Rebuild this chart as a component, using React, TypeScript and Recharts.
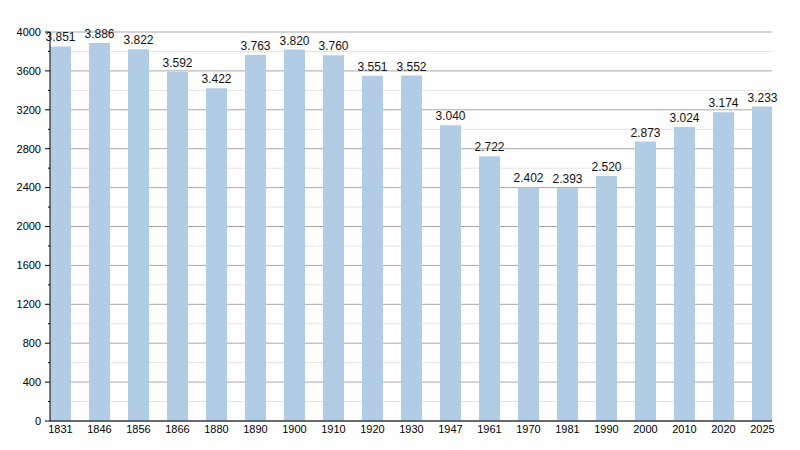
import { BarChart, Bar, XAxis, YAxis, CartesianGrid, LabelList } from 'recharts'

const years = ['1831', '1846', '1856', '1866', '1880', '1890', '1900', '1910', '1920', '1930', '1947', '1961', '1970', '1981', '1990', '2000', '2010', '2020', '2025']
const population = [3851, 3886, 3822, 3592, 3422, 3763, 3820, 3760, 3551, 3552, 3040, 2722, 2402, 2393, 2520, 2873, 3024, 3174, 3233]
const majorTicks = [0, 400, 800, 1200, 1600, 2000, 2400, 2800, 3200, 3600, 4000]
const minorTicks = [200, 600, 1000, 1400, 1800, 2200, 2600, 3000, 3400, 3800]
const allTicks = [...majorTicks, ...minorTicks].sort((a, b) => a - b)

const rows = years.map((y, i) => ({ i, year: y, pop: population[i] }))

const font = 'Liberation Sans, Arial, Helvetica, sans-serif'
const fmt = (v: number) => String(v).replace(/\B(?=(\d{3})+(?!\d))/g, '.')

// eslint-disable-next-line @typescript-eslint/no-explicit-any
function YTick({ x, y, payload }: any) {
  const major = payload.value % 400 === 0
  return (
    <g>
      <line x1={x - (major ? 5 : 2)} x2={x} y1={y} y2={y} stroke="#000" />
      {major && (
        <text x={x - 9} y={y} dy="0.35em" textAnchor="end" fontSize={11} fontFamily={font} fill="#000">
          {payload.value}
        </text>
      )}
    </g>
  )
}

export default function App() {
  return (
    <div style={{ position: 'absolute', left: 0, top: 0, background: '#fff' }}>
      <BarChart width={800} height={450} data={rows} margin={{ top: 32, right: 28, bottom: 0, left: 0 }}>
        <CartesianGrid vertical={false} horizontalValues={minorTicks} stroke="#e2e2e2" />
        <CartesianGrid vertical={false} horizontalValues={majorTicks} stroke="#a8a8a8" />
        <XAxis
          dataKey="i"
          type="number"
          domain={[-0.269, 18.244]}
          allowDataOverflow
          ticks={years.map((_, i) => i)}
          tickFormatter={(i: number) => years[i]}
          interval={0}
          height={29}
          tickLine={false}
          tickSize={0}
          tickMargin={4}
          axisLine={{ stroke: '#000' }}
          tick={{ fill: '#000', fontSize: 11, fontFamily: font }}
        />
        <YAxis
          width={50}
          domain={[0, 4000]}
          ticks={allTicks}
          interval={0}
          tickLine={false}
          tickSize={0}
          tickMargin={0}
          axisLine={{ stroke: '#000' }}
          tick={<YTick />}
        />
        <Bar dataKey="pop" fill="#b2cce5" barSize={21} isAnimationActive={false}>
          <LabelList
            dataKey="pop"
            position="top"
            offset={5}
            formatter={(v: number) => fmt(v)}
            fill="#111"
            fontSize={12}
            fontFamily={font}
          />
        </Bar>
      </BarChart>
    </div>
  )
}
